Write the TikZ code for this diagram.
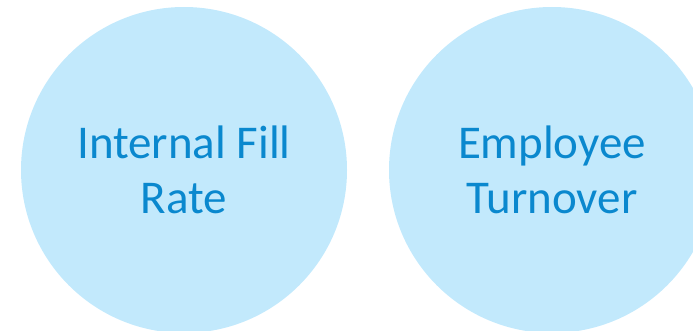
\documentclass[tikz,border=0pt]{standalone}
\usepackage{fontspec}
\setmainfont{Carlito}
\usetikzlibrary{positioning}
\definecolor{bubblefill}{RGB}{194,233,252}
\definecolor{bubbletext}{RGB}{10,136,206}

\begin{document}
\begin{tikzpicture}[x=1pt, y=-1pt,
    bubble/.style={circle, fill=bubblefill, text=bubbletext, minimum size=326pt, inner sep=0pt, align=center,
                   font=\fontsize{47}{55}\selectfont}]
    \useasboundingbox (0,0) rectangle (693,331);
    \node [bubble] (fillrate) at (184,170) {Internal Fill\\Rate};
    \node [bubble] (turnover) at (552,170) {Employee\\Turnover};
\end{tikzpicture}
\end{document}
